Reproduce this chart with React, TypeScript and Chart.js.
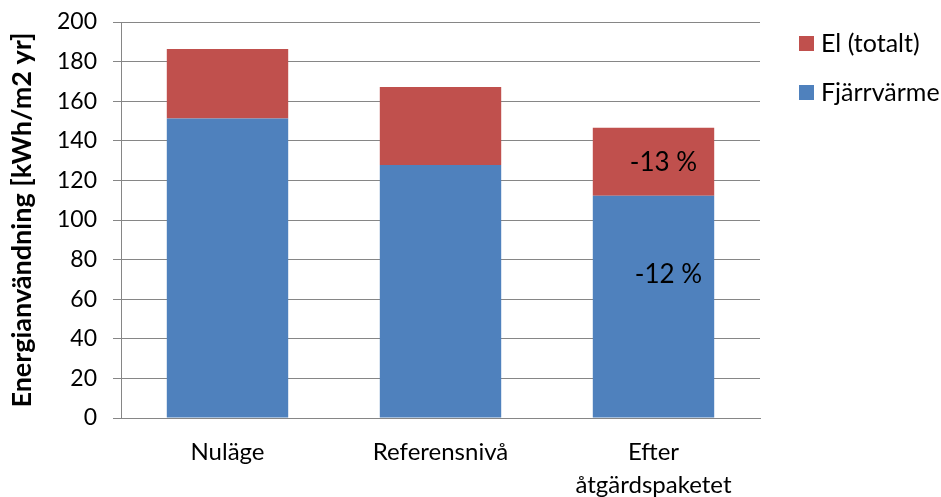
import React, { useEffect, useRef } from "react";
import { Chart, registerables } from "chart.js";

Chart.register(...registerables);

const categories: (string | string[])[] = ["Nuläge", "Referensnivå", ["Efter", "åtgärdspaketet"]];
const fjarrvarme = [151.3, 127.8, 112.2];
const elTotalt = [35.1, 39.4, 34.4];
const seriesNames = ["Fjärrvärme", "El (totalt)"];
const seriesColors = ["#4F81BD", "#C0504D"];
const annotationTexts = ["-13 %", "-12 %"];
const annotationCategory = [2, 2];
const annotationValues = [129, 72.5];
const yTitle = "Energianvändning [kWh/m2 yr]";

const FONT = "Lato, 'Open Sans', sans-serif";

const customPlugin = {
  id: "custom",
  afterDatasetsDraw(chart: any) {
    const ctx = chart.ctx;
    const x = chart.scales.x;
    const y = chart.scales.y;
    ctx.save();
    ctx.fillStyle = "#000";
    ctx.font = `26px ${FONT}`;
    ctx.textAlign = "center";
    ctx.textBaseline = "middle";
    annotationTexts.forEach((t, i) => {
      const px = x.getPixelForValue(annotationCategory[i]) + 10 + i * 5;
      const py = y.getPixelForValue(annotationValues[i]);
      ctx.fillText(t, px, py);
    });
    // legend (reversed order)
    const lx = 799;
    const items = [1, 0];
    ctx.textAlign = "left";
    ctx.font = `25px ${FONT}`;
    items.forEach((si, k) => {
      const cy = 43 + k * 49;
      ctx.fillStyle = seriesColors[si];
      ctx.fillRect(lx, cy - 7, 15, 15);
      ctx.fillStyle = "#000";
      ctx.fillText(seriesNames[si], lx + 22, cy + 1);
    });
    ctx.restore();
  },
};

export default function App() {
  const ref = useRef<HTMLCanvasElement>(null);
  useEffect(() => {
    if (!ref.current) return;
    const chart = new Chart(ref.current, {
      type: "bar",
      data: {
        labels: categories,
        datasets: [
          {
            label: seriesNames[0],
            data: fjarrvarme,
            backgroundColor: seriesColors[0],
            categoryPercentage: 1,
            barPercentage: 0.57,
          },
          {
            label: seriesNames[1],
            data: elTotalt,
            backgroundColor: seriesColors[1],
            categoryPercentage: 1,
            barPercentage: 0.57,
          },
        ],
      },
      options: {
        animation: false,
        responsive: false,
        maintainAspectRatio: false,
        layout: { padding: { top: 22, right: 181, left: 0, bottom: 0 } },
        plugins: {
          legend: { display: false },
          tooltip: { enabled: false },
        },
        scales: {
          x: {
            stacked: true,
            grid: { display: false, drawTicks: false },
            border: { color: "#868686", width: 1 },
            ticks: {
              color: "#000",
              font: { family: FONT, size: 24, lineHeight: 1.4 },
              padding: 17,
              maxRotation: 0,
              autoSkip: false,
            },
            afterFit: (s: any) => {
              s.height = 79;
              s.paddingLeft = 0;
              s.paddingRight = 0;
            },
          },
          y: {
            stacked: true,
            min: 0,
            max: 200,
            grid: { color: "#868686", lineWidth: 1, tickLength: 8, drawTicks: true },
            border: { color: "#868686", width: 1 },
            ticks: {
              stepSize: 20,
              color: "#000",
              font: { family: FONT, size: 23 },
              padding: 16,
            },
            title: {
              display: true,
              text: yTitle,
              color: "#000",
              font: { family: FONT, size: 27, weight: "bold" },
              padding: { top: 6, bottom: 0 },
            },
            afterFit: (s: any) => {
              s.width = 121;
              s.paddingTop = 0;
              s.paddingBottom = 0;
            },
          },
        },
      },
      plugins: [customPlugin],
    });
    return () => chart.destroy();
  }, []);
  return (
    <div style={{ position: "fixed", left: 0, top: 0, width: 941, height: 497, background: "#fff" }}>
      <canvas ref={ref} width={941} height={497} style={{ width: 941, height: 497 }} />
    </div>
  );
}
